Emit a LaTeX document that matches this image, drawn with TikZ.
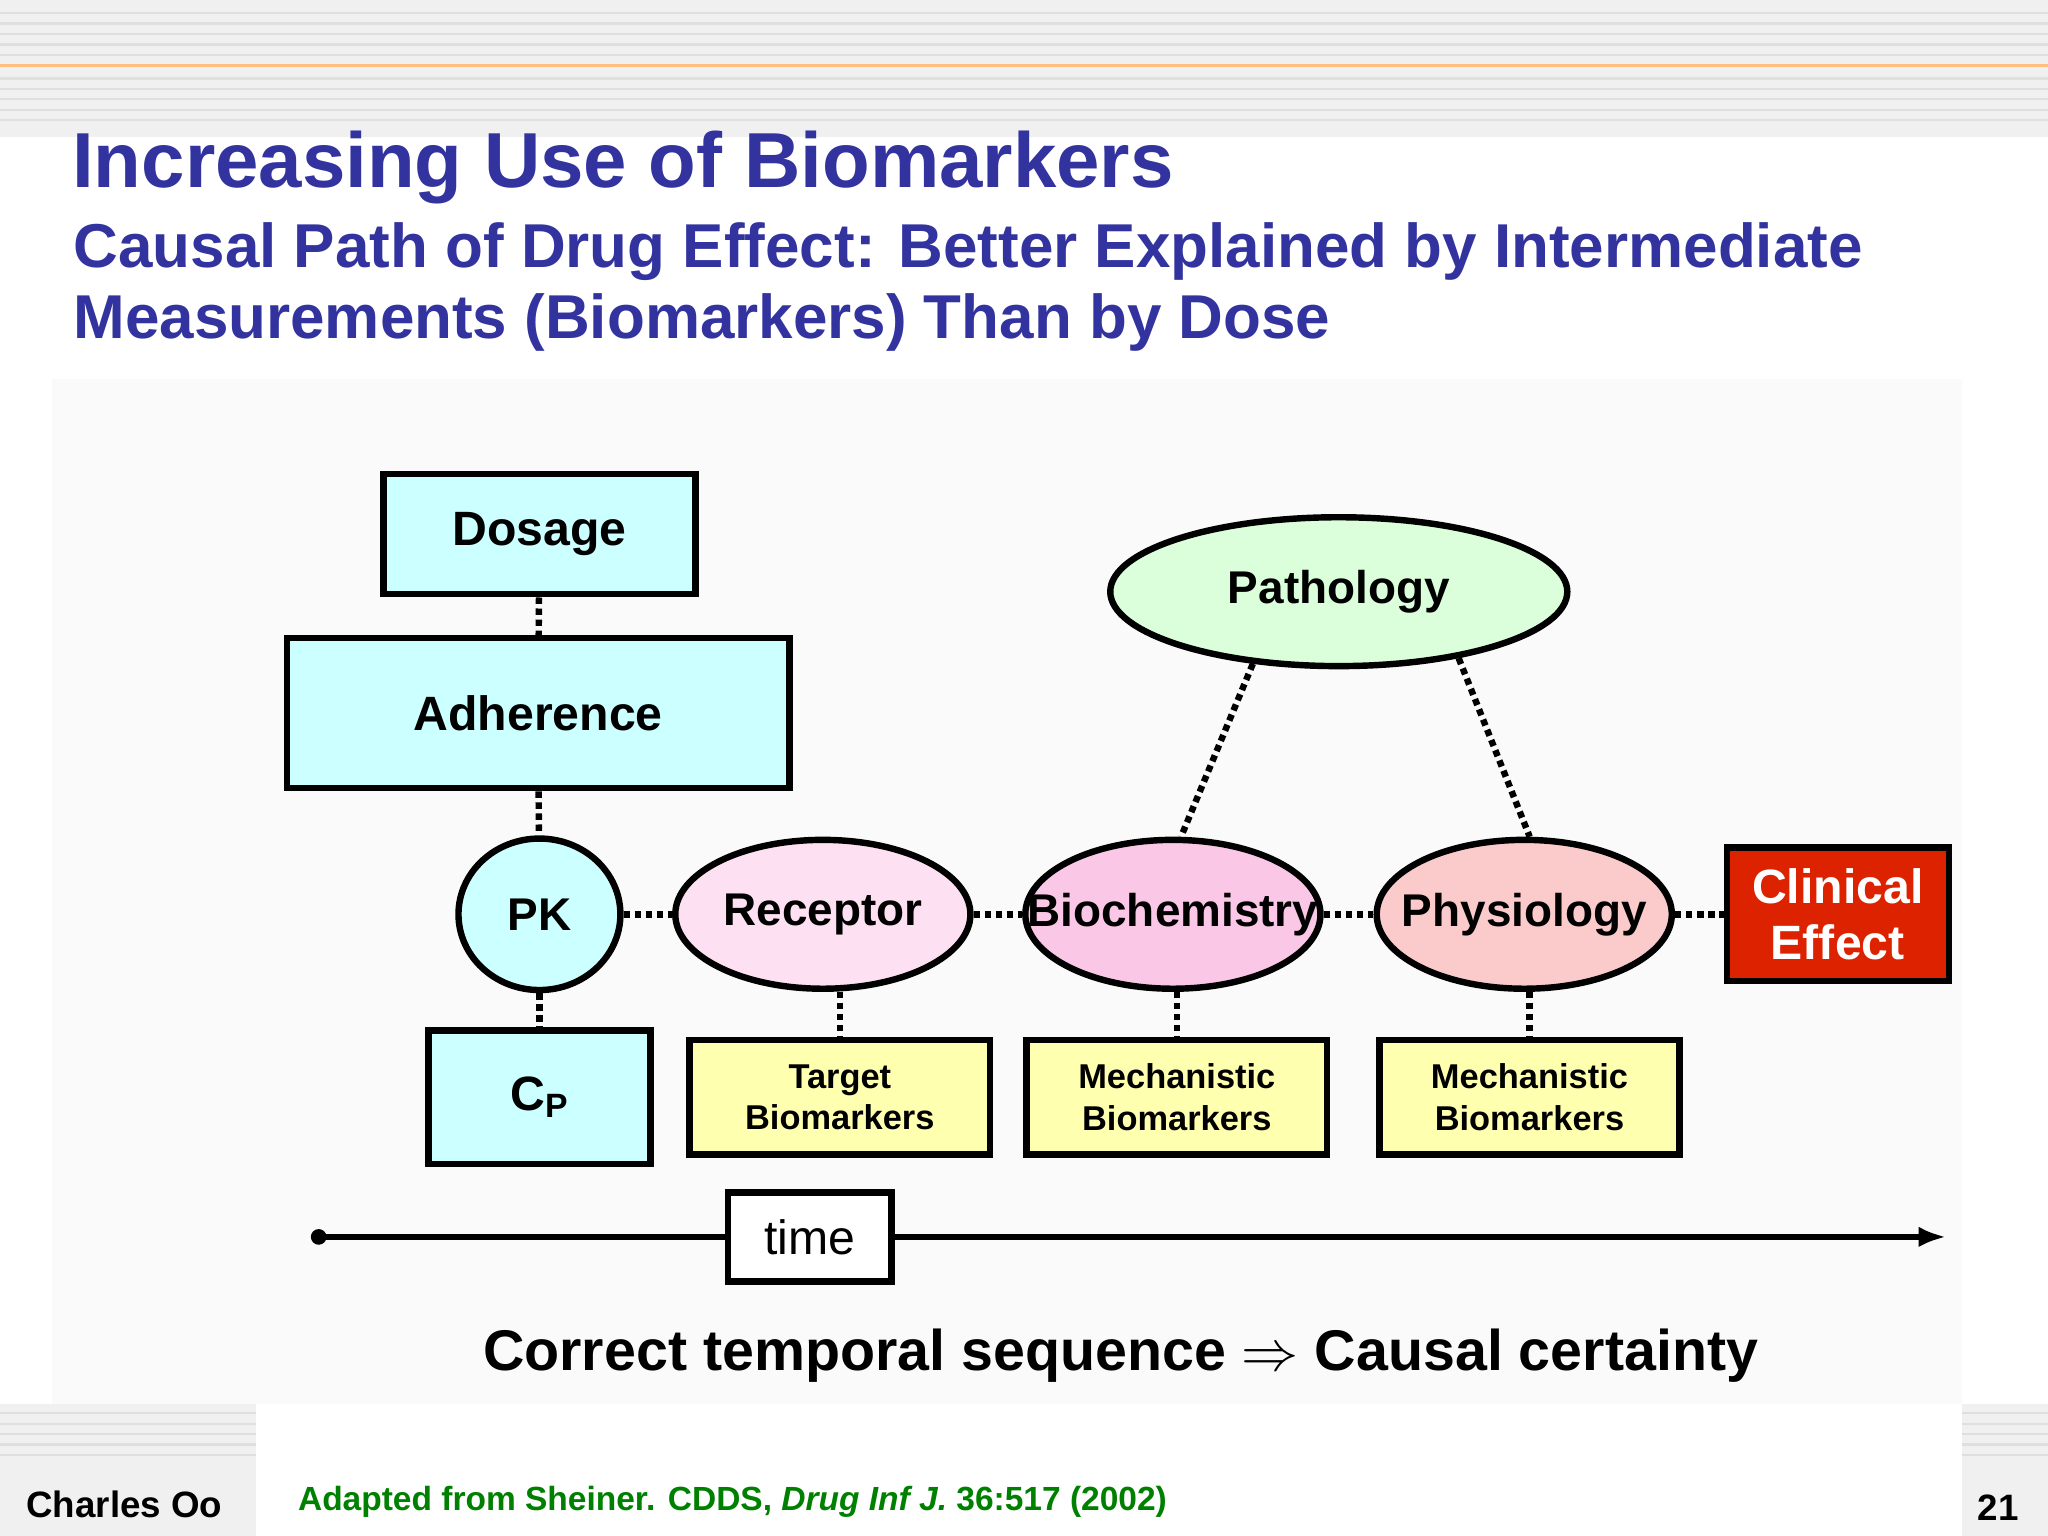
\documentclass[tikz,border=0pt]{standalone}
\usepackage{fontspec}
\setmainfont{Liberation Sans}
\usetikzlibrary{shapes.geometric,arrows.meta}
\definecolor{ttl}{HTML}{3333A0}
\definecolor{cy}{HTML}{CCFFFF}
\definecolor{yl}{HTML}{FFFFB0}
\definecolor{rd}{HTML}{DD2200}
\begin{document}
\begin{tikzpicture}[x=0.02cm,y=-0.02cm,
 bx/.style={draw,line width=2.8pt,inner sep=0,font=\fontsize{21}{24}\selectfont\bfseries,align=center},
 el/.style={draw,ellipse,line width=2.8pt,inner sep=0,font=\fontsize{20}{24}\selectfont\bfseries},
 sm/.style={bx,fill=yl,minimum width=4.6cm,minimum height=1.75cm,font=\fontsize{15}{18}\selectfont\bfseries},
 dt/.style={line width=2.8pt,dotted}]
\useasboundingbox (0,0) rectangle (1568,1176);
\fill[gray!12] (0,0) rectangle (1568,105);
\foreach \y in {10,18,26,34,42,60,68,76,84,92} \draw[gray!25,line width=1pt] (0,\y)--(1568,\y);
\draw[orange!50,line width=1.5pt] (0,50)--(1568,50);
\fill[gray!4] (40,290) rectangle (1502,1075);
\fill[gray!12] (0,1075) rectangle (196,1176);
\fill[gray!12] (1502,1075) rectangle (1568,1176);
\foreach \y in {1082,1090,1098,1106,1114} {\draw[gray!25,line width=1pt] (0,\y)--(196,\y); \draw[gray!25,line width=1pt] (1502,\y)--(1568,\y);}
\node[anchor=west,text=ttl,font=\fontsize{34}{40}\selectfont\bfseries,inner sep=0] (t1) at (55,128) {Increasing Use of Biomarkers};
\node[anchor=north west,text=ttl,font=\fontsize{27}{31}\selectfont\bfseries,align=left,inner sep=0] (t2) at (56,170) {Causal Path of Drug Effect: Better Explained by Intermediate\\Measurements (Biomarkers) Than by Dose};
\node[bx,fill=cy,minimum width=4.78cm,minimum height=1.84cm] (dos) at (413,409) {Dosage};
\node[bx,fill=cy,minimum width=7.7cm,minimum height=2.3cm] (adh) at (412,546) {Adherence};
\node[el,fill=cy,minimum width=2.48cm,minimum height=2.32cm] (pk) at (413,700) {\makebox[0pt]{PK}};
\node[el,fill=magenta!12,minimum width=4.52cm,minimum height=2.28cm] (rec) at (630,700) {\makebox[0pt]{Receptor}};
\node[el,fill=magenta!22,minimum width=4.52cm,minimum height=2.28cm] (bio) at (898,700) {\makebox[0pt]{Biochemistry}};
\node[el,fill=magenta!35!red!20,minimum width=4.52cm,minimum height=2.28cm] (phy) at (1167,700) {\makebox[0pt]{Physiology}};
\node[el,fill=green!14,minimum width=7cm,minimum height=2.28cm] (pat) at (1025,453) {\makebox[0pt]{Pathology}};
\node[bx,fill=rd,text=white,minimum width=3.4cm,minimum height=2.04cm] (cli) at (1407,700) {Clinical\\Effect};
\node[bx,fill=cy,minimum width=3.4cm,minimum height=2.04cm] (cp) at (413,840) {C\textsubscript{P}};
\node[sm] (tb) at (643,840) {Target\\Biomarkers};
\node[sm] (mb1) at (901,840) {Mechanistic\\Biomarkers};
\node[sm] (mb2) at (1171,840) {Mechanistic\\Biomarkers};
\draw[dt] (dos)--(adh); \draw[dt] (adh)--(pk); \draw[dt] (pk)--(cp);
\draw[dt] (pk)--(rec); \draw[dt] (rec)--(bio); \draw[dt] (bio)--(phy); \draw[dt] (phy)--(cli);
\draw[dt] (rec.south -| tb)--(tb); \draw[dt] (bio.south -| mb1)--(mb1); \draw[dt] (phy.south -| mb2)--(mb2);
\draw[dt] (pat.220)--(bio.84); \draw[dt] (pat.331)--(phy.86);
\coordinate (ts) at (244,947); \coordinate (te) at (1490,947);
\fill (ts) circle (6);
\draw[line width=2.8pt,-{Latex[length=12pt]}] (ts)--(te);
\node[bx,fill=white,minimum width=2.5cm,minimum height=1.36cm,font=\fontsize{21}{24}\selectfont] (time) at (620,947) {time};
\node[font=\fontsize{25}{29}\selectfont\bfseries] (cs) at (858,1038) {Correct temporal sequence $\Rightarrow$ Causal certainty};
\node[anchor=west,font=\fontsize{16}{19}\selectfont\bfseries] (au) at (14,1152) {Charles Oo};
\node[anchor=west,text=green!50!black,font=\fontsize{14.6}{17}\selectfont\bfseries] (src) at (222,1150) {Adapted from Sheiner. CDDS, \textit{Drug Inf J.} 36:517 (2002)};
\node[font=\fontsize{16}{19}\selectfont\bfseries] (pg) at (1530,1154) {21};
\end{tikzpicture}
\end{document}
